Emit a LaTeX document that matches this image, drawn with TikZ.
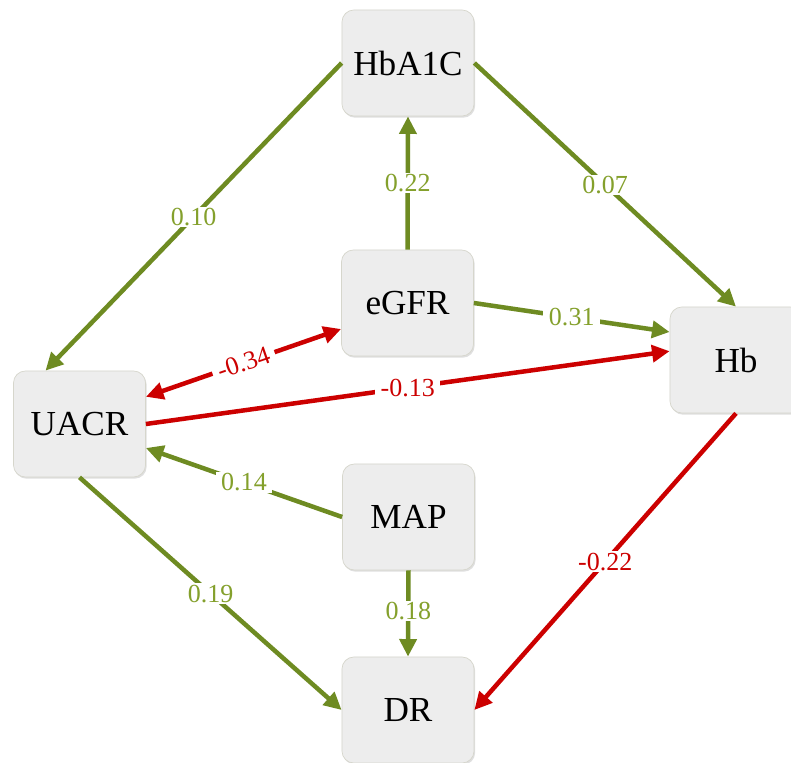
\documentclass[tikz,border=0pt]{standalone}
\usepackage{fontspec}
\setmainfont{Liberation Serif}
\usetikzlibrary{arrows.meta,shadows}

\definecolor{pathgreen}{HTML}{6E8B22}
\definecolor{labgreen}{HTML}{84A02C}
\definecolor{pathred}{HTML}{CC0000}
\definecolor{boxgray}{HTML}{EDEDED}
\definecolor{boxline}{HTML}{D6D6CC}

\begin{document}
\begin{tikzpicture}[x=0.025cm,y=-0.025cm,
varbox/.style={draw=boxline, line width=0.5pt, fill=boxgray, rounded corners=0.3cm,
  minimum width=3.3cm, minimum height=2.65cm, font=\fontsize{25}{29}\selectfont,
  drop shadow={shadow xshift=0.8pt, shadow yshift=-1.2pt, opacity=0.25, fill=gray}},
pospath/.style={draw=pathgreen, line width=3.2pt, -{Triangle[length=0.44cm,width=0.42cm]}},
negpath/.style={draw=pathred, line width=3.2pt, -{Triangle[length=0.44cm,width=0.42cm]}},
poslab/.style={fill=white, inner xsep=4pt, inner ysep=1pt, text=labgreen, font=\fontsize{18.5}{21}\selectfont},
neglab/.style={fill=white, inner xsep=4pt, inner ysep=1pt, text=pathred, font=\fontsize{18.5}{21}\selectfont}]

\clip (0,0) rectangle (791,763);
\fill[white] (0,0) rectangle (791,763);

\node[varbox] (hba1c) at (408,63) {HbA1C};
\node[varbox] (egfr) at (407.5,303) {eGFR};
\node[varbox] (hb) at (736,360) {Hb};
\node[varbox] (uacr) at (79.5,424) {UACR};
\node[varbox] (map) at (408.5,517) {MAP};
\node[varbox] (dr) at (408,710) {DR};

% positive paths
\draw[pospath] (hba1c.west) -- node[poslab]{0.10} ([xshift=-0.85cm]uacr.north);
\draw[pospath] (hba1c.east) -- node[poslab]{0.07} (hb.north);
\draw[pospath] (egfr.north) -- node[poslab]{0.22} (hba1c.south);
\draw[pospath] (egfr.east) -- node[poslab]{0.31} ([yshift=0.7cm]hb.west);
\draw[pospath] (map.west) -- node[poslab]{0.14} ([yshift=-0.6cm]uacr.east);
\draw[pospath] (map.south) -- node[poslab, pos=0.47]{0.18} (dr.north);
\draw[pospath] (uacr.south) -- node[poslab]{0.19} (dr.west);

% negative paths
\draw[negpath, {Triangle[length=0.44cm,width=0.42cm]}-{Triangle[length=0.44cm,width=0.42cm]}]
  ([yshift=0.68cm]uacr.east) -- node[neglab, sloped]{-0.34} ([yshift=-0.65cm]egfr.west);
\draw[negpath] (uacr.east) -- node[neglab]{-0.13} ([yshift=0.22cm]hb.west);
\draw[negpath] (hb.south) -- node[neglab]{-0.22} (dr.east);

\end{tikzpicture}
\end{document}
